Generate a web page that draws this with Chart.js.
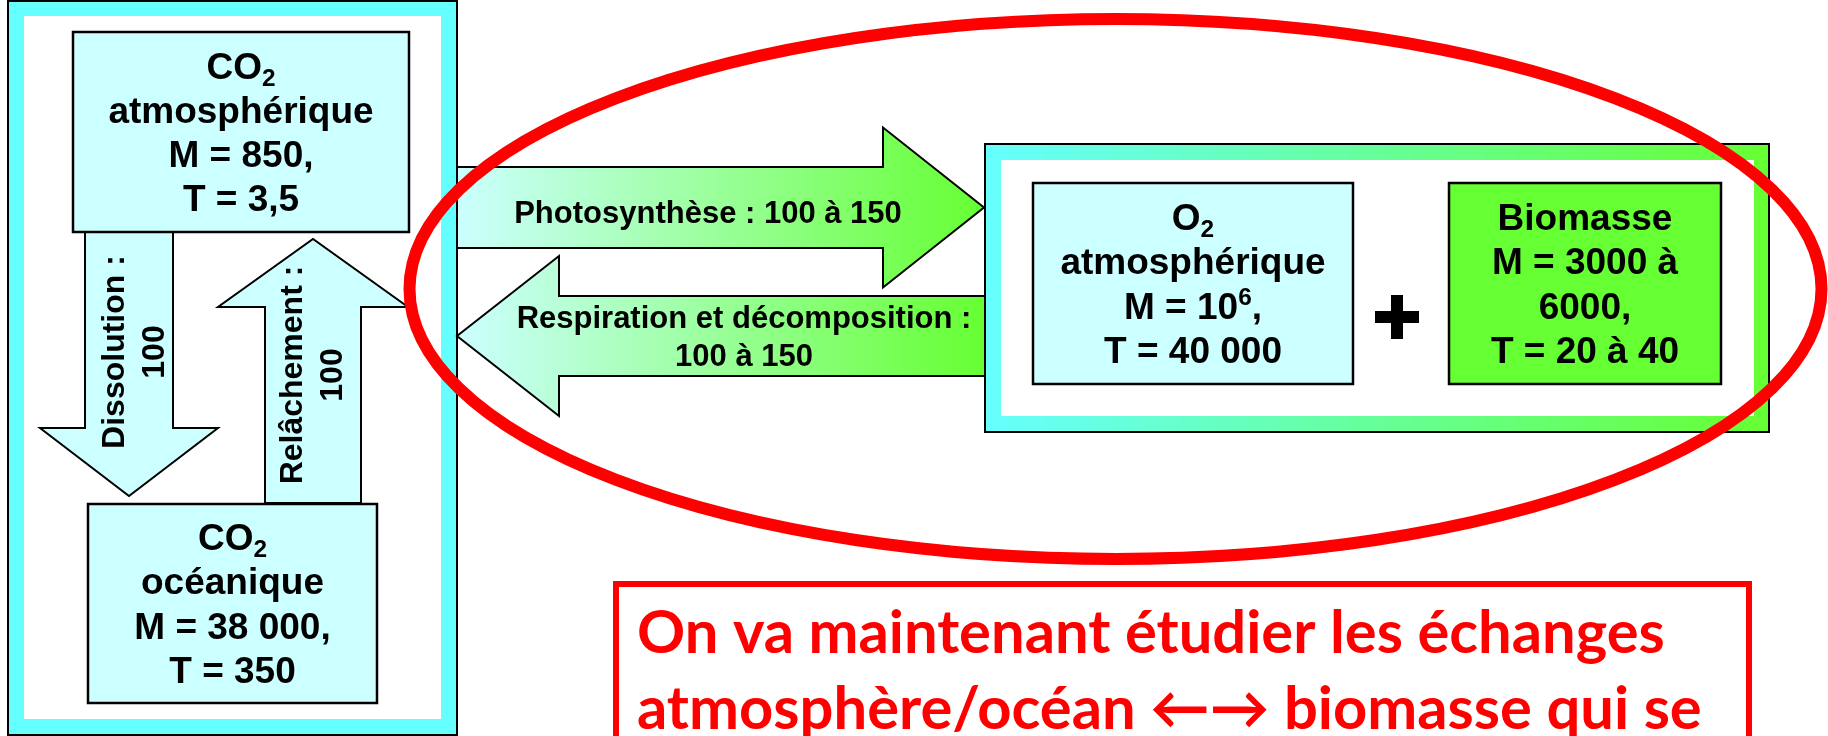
<!DOCTYPE html>
<html>
<head>
<meta charset="utf-8">
<script src="https://cdn.jsdelivr.net/npm/chart.js@4.4.1/dist/chart.umd.min.js"></script>
<style>
  html, body { margin: 0; padding: 0; background: #fff; }
  #chart { display: block; }
</style>
</head>
<body>
<canvas id="chart" width="1828" height="736"></canvas>
<script>
// reservoirs (M = masse, T = temps de résidence)
const reservoirs = ['CO_2', 'CO_2', 'O_2', 'Biomasse'];
const places = ['atmosphérique', 'océanique', 'atmosphérique', ''];
const masses = ['850', '38 000', '10^6', '3000 à 6000'];
const times = ['3,5', '350', '40 000', '20 à 40'];

// flux entre reservoirs
const fluxes = ['Dissolution', 'Relâchement', 'Photosynthèse', 'Respiration et décomposition'];
const fluxValues = ['100', '100', '100 à 150', '100 à 150'];

const note = ['On va maintenant étudier les échanges', 'atmosphère/océan \u2190\u2192 biomasse qui se'];

// layout, in diagram units (same as the canvas pixels)
const W = 1828, H = 736;
const CYAN = '#66ffff', PALE = '#ccffff', GREEN = '#66ff33', RED = '#ff0000';
const FONT = '"Liberation Sans", Arial, sans-serif';

const boxes = [
  {x0: 73, y0: 32, x1: 409, y1: 232, fill: PALE},
  {x0: 88, y0: 504, x1: 377, y1: 703, fill: PALE},
  {x0: 1033, y0: 183, x1: 1353, y1: 384, fill: PALE},
  {x0: 1449, y0: 183, x1: 1721, y1: 384, fill: GREEN}
];
const arrows = [
  {tail: [129, 232], tip: [129, 496], shaft: 88, head: 178, headLen: 68, rot: true, lx: 135, ly: 352, maxW: 230},
  {tail: [313, 503], tip: [313, 239], shaft: 96, head: 190, headLen: 68, rot: true, lx: 313, ly: 375, maxW: 230},
  {tail: [457, 207.5], tip: [984, 207.5], shaft: 81, head: 160, headLen: 101, grad: true, lx: 708, ly: 212, maxW: 440},
  {tail: [985, 336], tip: [457, 336], shaft: 80, head: 160, headLen: 102, grad: true, lx: 744, ly: 336, maxW: 480}
];

// split "CO_2" / "10^6" into runs with sub/superscripts
function runs(s) {
  const out = [];
  for (let i = 0; i < s.length; i++) {
    const ch = s[i];
    if ((ch === '_' || ch === '^') && i + 1 < s.length) {
      out.push({t: s[i + 1], k: ch});
      i++;
    } else if (out.length && !out[out.length - 1].k) {
      out[out.length - 1].t += ch;
    } else {
      out.push({t: ch, k: null});
    }
  }
  return out;
}

function richWidth(ctx, s, size) {
  let w = 0;
  runs(s).forEach(r => {
    ctx.font = 'bold ' + (r.k ? size * 0.66 : size) + 'px ' + FONT;
    w += ctx.measureText(r.t).width;
  });
  return w;
}

function richText(ctx, s, cx, base, size) {
  let x = cx - richWidth(ctx, s, size) / 2;
  ctx.textAlign = 'left';
  ctx.textBaseline = 'alphabetic';
  runs(s).forEach(r => {
    const sz = r.k ? size * 0.66 : size;
    ctx.font = 'bold ' + sz + 'px ' + FONT;
    let y = base;
    if (r.k === '_') y += size * 0.2;
    if (r.k === '^') y -= size * 0.36;
    ctx.fillText(r.t, x, y);
    x += ctx.measureText(r.t).width;
  });
}

function wrap(ctx, s, size, maxW) {
  const words = s.split(' ');
  const lines = [];
  let cur = '';
  words.forEach(w => {
    const test = cur ? cur + ' ' + w : w;
    if (cur && richWidth(ctx, test, size) > maxW) {
      lines.push(cur);
      cur = w;
    } else {
      cur = test;
    }
  });
  if (cur) lines.push(cur);
  return lines;
}

const diagram = {
  id: 'diagram',
  afterDraw(chart) {
    const ctx = chart.ctx;
    const xs = chart.scales.x, ys = chart.scales.y;
    const px = v => xs.getPixelForValue(v);
    const py = v => ys.getPixelForValue(v);

    function rect(x0, y0, x1, y1, fill, stroke, lw) {
      const X = px(x0), Y = py(y0), w = px(x1) - X, h = py(y1) - Y;
      if (fill) { ctx.fillStyle = fill; ctx.fillRect(X, Y, w, h); }
      if (stroke) { ctx.strokeStyle = stroke; ctx.lineWidth = lw; ctx.strokeRect(X, Y, w, h); }
    }

    ctx.save();

    // outer frames
    rect(8, 1, 457, 735, CYAN, null);
    rect(24, 16, 441, 719, '#ffffff', null);
    rect(8, 1, 457, 735, null, '#000', 2);

    const band = ctx.createLinearGradient(px(985), 0, px(1769), 0);
    band.addColorStop(0, CYAN);
    band.addColorStop(1, GREEN);
    rect(985, 144, 1769, 432, band, null);
    rect(1001, 160, 1754, 416, '#ffffff', null);
    rect(985, 144, 1769, 432, null, '#000', 2);

    // flux arrows
    arrows.forEach(a => {
      const dx = a.tip[0] - a.tail[0], dy = a.tip[1] - a.tail[1];
      const len = Math.hypot(dx, dy);
      const ux = dx / len, uy = dy / len, nx = -uy, ny = ux;
      const bx = a.tip[0] - ux * a.headLen, by = a.tip[1] - uy * a.headLen;
      const s = a.shaft / 2, h = a.head / 2;
      const pts = [
        [a.tail[0] + nx * s, a.tail[1] + ny * s],
        [bx + nx * s, by + ny * s],
        [bx + nx * h, by + ny * h],
        a.tip,
        [bx - nx * h, by - ny * h],
        [bx - nx * s, by - ny * s],
        [a.tail[0] - nx * s, a.tail[1] - ny * s]
      ];
      ctx.beginPath();
      pts.forEach((p, i) => i ? ctx.lineTo(px(p[0]), py(p[1])) : ctx.moveTo(px(p[0]), py(p[1])));
      ctx.closePath();
      if (a.grad) {
        const g = ctx.createLinearGradient(px(457), 0, px(985), 0);
        g.addColorStop(0, PALE);
        g.addColorStop(1, GREEN);
        ctx.fillStyle = g;
      } else {
        ctx.fillStyle = PALE;
      }
      ctx.fill();
      ctx.strokeStyle = '#000';
      ctx.lineWidth = 2;
      ctx.lineJoin = 'miter';
      ctx.stroke();
    });

    // reservoirs
    ctx.fillStyle = '#000';
    boxes.forEach((b, i) => {
      rect(b.x0, b.y0, b.x1, b.y1, b.fill, '#000', 2.5);
      const size = 37;
      let lines = [reservoirs[i]];
      if (places[i]) lines.push(places[i]);
      lines.push('M = ' + masses[i] + ',');
      lines.push('T = ' + times[i]);
      lines = lines.flatMap(l => wrap(ctx, l, size, (b.x1 - b.x0) - 20));
      const cx = (px(b.x0) + px(b.x1)) / 2, cy = (py(b.y0) + py(b.y1)) / 2;
      ctx.fillStyle = '#000';
      lines.forEach((l, k) => {
        richText(ctx, l, cx, cy + (k - (lines.length - 1) / 2) * 44.3 + 13, size);
      });
    });

    // plus sign between O2 and biomass
    ctx.fillStyle = '#000';
    rect(1375, 311, 1419, 323, '#000', null);
    rect(1391, 295, 1403, 339, '#000', null);

    // flux labels
    arrows.forEach((a, i) => {
      ctx.fillStyle = '#000';
      if (a.rot) {
        const size = 32;
        const lines = wrap(ctx, fluxes[i] + ' : ' + fluxValues[i], size, a.maxW);
        ctx.save();
        ctx.translate(px(a.lx), py(a.ly));
        ctx.rotate(-Math.PI / 2);
        ctx.font = 'bold ' + size + 'px ' + FONT;
        ctx.textAlign = 'center';
        ctx.textBaseline = 'middle';
        lines.forEach((l, k) => ctx.fillText(l, 0, (k - (lines.length - 1) / 2) * 40));
        ctx.restore();
      } else {
        const size = 31;
        const lines = wrap(ctx, fluxes[i] + ' : ' + fluxValues[i], size, a.maxW);
        lines.forEach((l, k) => {
          richText(ctx, l, px(a.lx), py(a.ly) + (k - (lines.length - 1) / 2) * 38 + 11, size);
        });
      }
    });

    // red ellipse around the biomass exchanges
    ctx.beginPath();
    ctx.ellipse(px(1115.5), py(289), px(706) - px(0), py(270) - py(0), 0, 0, Math.PI * 2);
    ctx.strokeStyle = RED;
    ctx.lineWidth = 12;
    ctx.stroke();

    // note box
    rect(616, 584, 1749, 800, '#ffffff', RED, 6);
    ctx.font = 'bold 100px Lato, "Open Sans", sans-serif';
    const fit = 100 * 1028 / ctx.measureText(note[0]).width;
    ctx.font = 'bold ' + fit + 'px Lato, "Open Sans", "DejaVu Sans", sans-serif';
    ctx.fillStyle = RED;
    ctx.textAlign = 'left';
    ctx.textBaseline = 'alphabetic';
    ctx.fillText(note[0], px(637), py(653));
    ctx.fillText(note[1], px(637), py(729));

    ctx.restore();
  }
};

const chart = new Chart(document.getElementById('chart'), {
  type: 'scatter',
  data: { datasets: [{ data: [], pointRadius: 0 }] },
  options: {
    responsive: false,
    animation: false,
    devicePixelRatio: 1,
    layout: { padding: 0 },
    plugins: { legend: { display: false }, tooltip: { enabled: false } },
    scales: {
      x: { type: 'linear', min: 0, max: W, display: false },
      y: { type: 'linear', min: 0, max: H, reverse: true, display: false }
    }
  },
  plugins: [diagram]
});
</script>
</body>
</html>
